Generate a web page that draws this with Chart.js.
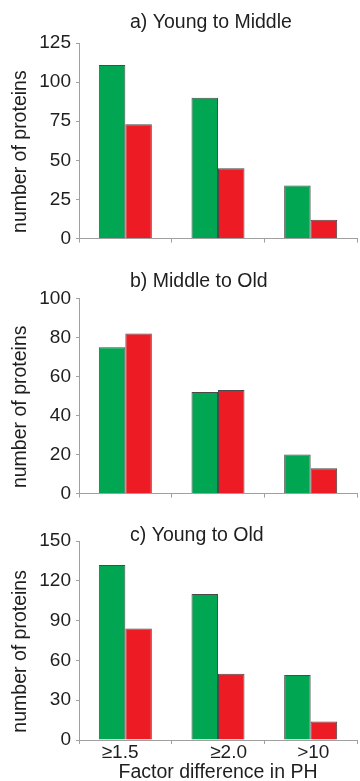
<!DOCTYPE html>
<html><head><meta charset="utf-8">
<script src="https://cdn.jsdelivr.net/npm/chart.js"></script>
<style>
html,body{margin:0;padding:0;background:#fff;}
canvas{display:block;position:absolute;left:0;}
</style>
</head><body>
<canvas id="cA" width="360" height="255" style="top:0px"></canvas>
<canvas id="cB" width="360" height="255" style="top:255px"></canvas>
<canvas id="cC" width="360" height="271" style="top:510px"></canvas>
<script>
// ---- data ----
const categories = ['≥1.5', '≥2.0', '>10'];
const panelTitles = ['a) Young to Middle', 'b) Middle to Old', 'c) Young to Old'];
const greenA = [111, 90, 34];
const redA   = [73, 45, 12];
const greenB = [75, 52, 20];
const redB   = [82, 53, 13];
const greenC = [132, 110, 49];
const redC   = [84, 50, 14];
const ticksA = [0, 25, 50, 75, 100, 125];
const ticksB = [0, 20, 40, 60, 80, 100];
const ticksC = [0, 30, 60, 90, 120, 150];
const yTitle = 'number of proteins';
const xTitle = 'Factor difference in PH';

// ---- styles ----
const FONT = '"Liberation Sans", Arial, Helvetica, sans-serif';
const TXT = '#1e1e1e';
const AXIS = '#a0a0a0';
const GREEN = '#00a651';
const RED = '#ed1c24';
const EDGE = '#4a4a4a';

const panelTitlePlugin = {
  id: 'panelTitle',
  afterDraw(chart, args, opts) {
    const ctx = chart.ctx;
    ctx.save();
    ctx.font = '19.5px ' + FONT;
    ctx.fillStyle = TXT;
    ctx.textAlign = 'left';
    ctx.textBaseline = 'alphabetic';
    ctx.fillText(opts.text, opts.x, opts.y);
    ctx.restore();
  }
};

function makeChart(id, title, titleY, green, red, ticks, padTop, xHeight, showX) {
  const xLabelPad = [ s => s + '  ', s => '    ' + s, s => ' ' + s ];
  return new Chart(document.getElementById(id), {
    type: 'bar',
    data: {
      labels: categories,
      datasets: [
        { label: 'green', data: green, backgroundColor: GREEN, borderColor: EDGE, borderWidth: 1,
          categoryPercentage: 0.572, barPercentage: 1.0 },
        { label: 'red', data: red, backgroundColor: RED, borderColor: EDGE, borderWidth: 1,
          categoryPercentage: 0.572, barPercentage: 1.0 }
      ]
    },
    plugins: [panelTitlePlugin],
    options: {
      responsive: false,
      animation: false,
      devicePixelRatio: 1,
      layout: { padding: { top: padTop, right: 3, bottom: 0, left: 0 } },
      plugins: {
        legend: { display: false },
        tooltip: { enabled: false },
        title: { display: false },
        panelTitle: { text: title, x: 130, y: titleY }
      },
      scales: {
        x: {
          type: 'category',
          offset: true,
          grid: { display: true, offset: true, drawOnChartArea: false, drawTicks: true,
                  tickLength: 4, color: AXIS, lineWidth: 1 },
          border: { display: true, color: AXIS, width: 1 },
          ticks: {
            display: showX,
            color: TXT,
            padding: -1,
            maxRotation: 0,
            autoSkip: false,
            font: { family: FONT, size: 19, lineHeight: 1.0 },
            callback: (v, i) => xLabelPad[i](categories[i])
          },
          title: {
            display: showX,
            text: xTitle,
            color: TXT,
            font: { family: FONT, size: 19.5, lineHeight: 1.0 },
            padding: { top: 0, bottom: -1.5 }
          },
          afterFit: s => { s.height = xHeight; }
        },
        y: {
          type: 'linear',
          min: ticks[0],
          max: ticks[ticks.length - 1],
          afterBuildTicks: s => { s.ticks = ticks.map(v => ({ value: v })); },
          grid: { display: true, drawOnChartArea: false, drawTicks: true, tickLength: 3,
                  color: AXIS, lineWidth: 1 },
          border: { display: true, color: AXIS, width: 1 },
          ticks: {
            color: TXT,
            padding: 5,
            font: { family: FONT, size: 19, lineHeight: 1.2 }
          },
          title: {
            display: true,
            text: yTitle + '    ',
            color: TXT,
            font: { family: FONT, size: 19.5, lineHeight: 1.2 },
            padding: { top: 8.5, bottom: 0 }
          },
          afterFit: s => { s.width = 79; }
        }
      }
    }
  });
}

makeChart('cA', panelTitles[0], 28.3, greenA, redA, ticksA, 43, 13, false);
makeChart('cB', panelTitles[1], 31.7, greenB, redB, ticksB, 43.3, 13, false);
makeChart('cC', panelTitles[2], 30.7, greenC, redC, ticksC, 31, 41, true);
</script>
</body></html>
